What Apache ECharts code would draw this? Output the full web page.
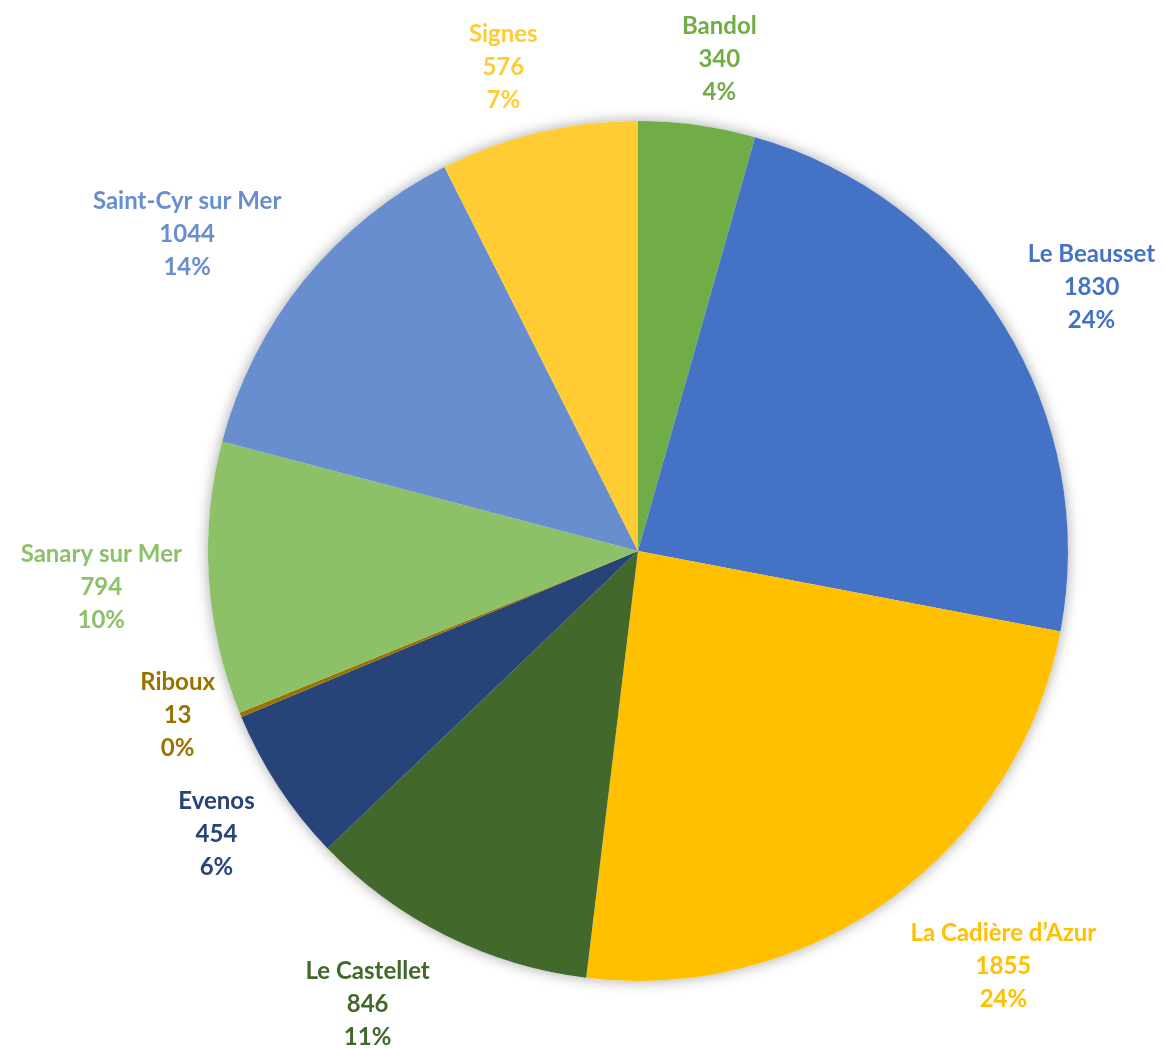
<!DOCTYPE html>
<html>
<head>
<meta charset="utf-8">
<title>Communes</title>
<script src="https://cdn.jsdelivr.net/npm/echarts@6/dist/echarts.min.js"></script>
<style>
  html, body { margin: 0; padding: 0; background: #ffffff; }
  #chart { width: 1166px; height: 1048px; }
</style>
</head>
<body>
<div id="chart"></div>
<script>
// Communes, clockwise from the top of the pie
const communes = ['Bandol', 'Le Beausset', 'La Cadière d’Azur', 'Le Castellet', 'Evenos',
  'Riboux', 'Sanary sur Mer', 'Saint-Cyr sur Mer', 'Signes'];
const counts = [340, 1830, 1855, 846, 454, 13, 794, 1044, 576];
const sliceColors = ['#70AD47', '#4472C4', '#FFC000', '#43682B', '#264478',
  '#997300', '#8CC168', '#698ED0', '#FFCD33'];

// Pie geometry
const W = 1166, H = 1048;
const CX = 638, CY = 551, R = 430;
const LABEL_GAP = 20;   // distance from the rim to the label anchor
const LABEL_PAD = 7;    // horizontal padding of a label block
const STACK_PAD = 20;   // vertical clearance between stacked labels
const TEXT_DY = 4;      // baseline nudge for the label font

// Mid angle of each slice, clockwise from 12 o'clock
const total = counts.reduce((a, b) => a + b, 0);
const midAngles = [];
let acc = 0;
counts.forEach(v => {
  midAngles.push((acc + v / 2) / total * Math.PI * 2);
  acc += v;
});

// Labels already placed in the current layout pass
let placed = [];

function overlaps(a, b) {
  return a.x < b.x + b.w && b.x < a.x + a.w && a.y < b.y + b.h && b.y < a.y + a.h;
}

const clamp = (v, lo, hi) => Math.max(lo, Math.min(hi, v));

const chart = echarts.init(document.getElementById('chart'), null, { renderer: 'canvas' });

chart.setOption({
  backgroundColor: '#ffffff',
  animation: false,
  series: [
    {
      // soft drop shadow under the whole disc
      type: 'pie',
      silent: true,
      center: [CX, CY],
      radius: R,
      label: { show: false },
      labelLine: { show: false },
      itemStyle: {
        color: '#ffffff',
        shadowBlur: 14,
        shadowColor: 'rgba(0,0,0,0.35)'
      },
      data: [{ value: 1, name: '' }],
      z: 1
    },
    {
      type: 'pie',
      center: [CX, CY],
      radius: R,
      startAngle: 90,
      clockwise: true,
      avoidLabelOverlap: false,
      percentPrecision: 0,
      z: 2,
      itemStyle: { borderWidth: 0 },
      labelLine: { show: false },
      label: {
        show: true,
        position: 'inside',
        formatter: '{b}\n{c}\n{d}%',
        fontFamily: 'Lato, "Open Sans", sans-serif',
        fontWeight: 'bold',
        fontSize: 24,
        lineHeight: 33,
        align: 'center'
      },
      labelLayout: function (p) {
        if (p.dataIndex === 0) placed = [];
        const a = midAngles[p.dataIndex];
        const dx = Math.sin(a), dy = -Math.cos(a);
        const hw = p.labelRect.width / 2 + LABEL_PAD, hh = p.labelRect.height / 2;
        // anchor just outside the rim, block hangs off it away from the pie
        let x = CX + dx * (R + LABEL_GAP) + Math.sign(dx) * Math.min(1, 3.2 * Math.abs(dx)) * hw;
        let y = CY + dy * (R + LABEL_GAP) + clamp(1.2 * dy, -1, 1) * hh + TEXT_DY;
        // keep the block inside the chart
        y = clamp(y, hh - 6, H + 6 - hh);
        x = clamp(x, hw - LABEL_PAD, W - hw + LABEL_PAD);
        // push away from earlier labels vertically
        let box = { x: x - hw, y: y - hh - STACK_PAD, w: hw * 2, h: hh * 2 + STACK_PAD * 2 };
        placed.forEach(o => {
          if (overlaps(box, o)) {
            if (y < o.y + o.h / 2) y = o.y - hh - STACK_PAD;
            else y = o.y + o.h + hh + STACK_PAD;
            box = { x: x - hw, y: y - hh - STACK_PAD, w: hw * 2, h: hh * 2 + STACK_PAD * 2 };
          }
        });
        placed.push({ x: x - hw, y: y - hh, w: hw * 2, h: hh * 2 });
        return { x: x, y: y, align: 'center', verticalAlign: 'middle' };
      },
      data: communes.map((name, i) => ({
        name: name,
        value: counts[i],
        itemStyle: { color: sliceColors[i] },
        label: { color: sliceColors[i] }
      }))
    }
  ]
});
</script>
</body>
</html>
